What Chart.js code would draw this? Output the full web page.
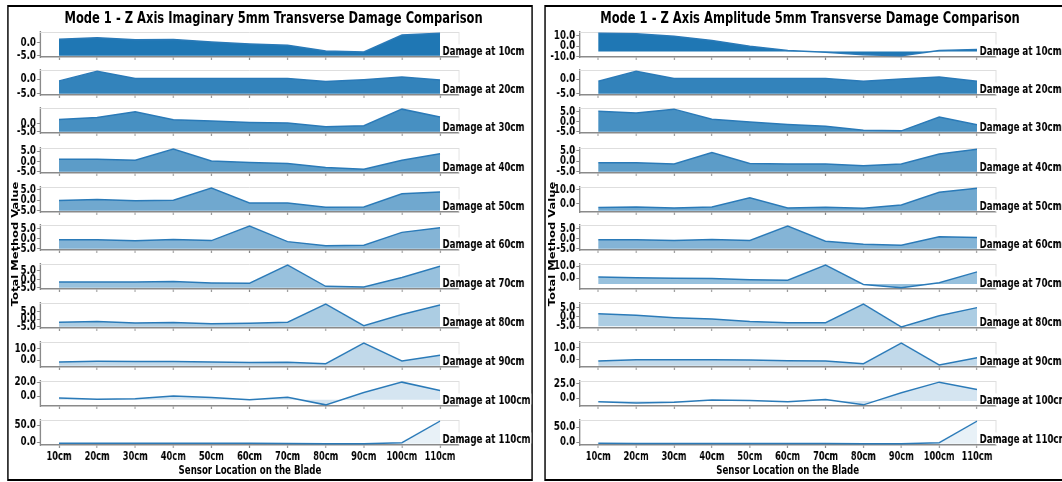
<!DOCTYPE html>
<html><head><meta charset="utf-8">
<script src="https://cdn.jsdelivr.net/npm/chart.js@4.4.1/dist/chart.umd.min.js"></script>
<style>
html,body{margin:0;padding:0;background:#fff;overflow:hidden;width:1062px;height:482px}
#stage{position:absolute;left:0;top:0;width:1475px;height:482px;transform:scaleX(0.72);transform-origin:0 0}
.frame{position:absolute;box-sizing:border-box;border-top:2px solid #000;border-bottom:2px solid #000;border-left:2.8px solid #000;border-right:2.8px solid #000}
.txt{position:absolute;font-family:'DejaVu Sans';font-weight:bold;color:#000;white-space:nowrap;text-align:center}
canvas{position:absolute}
</style></head><body><div id="stage"></div>
<script>
// ---------- data ----------
const categories = ['10cm','20cm','30cm','40cm','50cm','60cm','70cm','80cm','90cm','100cm','110cm'];
const damageLabels = ['Damage at 10cm','Damage at 20cm','Damage at 30cm','Damage at 40cm','Damage at 50cm','Damage at 60cm','Damage at 70cm','Damage at 80cm','Damage at 90cm','Damage at 100cm','Damage at 110cm'];

// Imaginary panel
const imag10  = [1.4, 1.9, 1.2, 1.3, 0.3, -0.5, -0.9, -3.1, -3.5, 3.0, 3.7];
const imag20  = [-0.6, 2.7, 0.2, 0.2, 0.2, 0.2, 0.2, -0.8, -0.2, 0.7, -0.3];
const imag30  = [2.4, 3.6, 7.0, 2.2, 1.4, 0.6, 0.2, -2.0, -1.4, 8.5, 3.8];
const imag40  = [1.0, 1.1, 0.6, 5.9, 0.2, -0.5, -1.0, -2.9, -3.7, 0.6, 3.7];
const imag50  = [-0.2, 0.3, -0.3, 0.0, 5.6, -1.3, -1.3, -3.3, -3.2, 3.0, 3.8];
const imag60  = [-0.5, -0.5, -1.0, -0.4, -0.9, 6.3, -1.4, -3.4, -3.2, 3.2, 5.5];
const imag70  = [-1.5, -1.5, -1.5, -1.3, -2.1, -2.3, 8.4, -4.1, -4.5, 1.1, 7.7];
const imag80  = [-2.0, -1.5, -2.4, -2.2, -2.9, -2.7, -2.0, 9.9, -4.2, 3.1, 9.3];
const imag90  = [-1.6, -1.0, -1.3, -1.3, -1.6, -2.2, -1.9, -3.1, 14.6, -0.7, 4.2];
const imag100 = [-2.5, -4.4, -3.4, 0.4, -1.9, -4.8, -1.5, -12.3, 5.4, 20.3, 8.3];
const imag110 = [-3.0, -3.2, -3.3, -3.0, -3.3, -3.5, -3.8, -4.5, -4.5, -1.5, 62.0];
const imagYTicks = [[0,-5],[0,-5],[0,-5],[5,0,-5],[5,0,-5],[5,0,-5],[5,0,-5],[5,0,-5],[10,0],[20,0],[50,0]];

// Amplitude panel
const amp10  = [12.2, 11.7, 9.2, 5.4, 0.0, -4.1, -5.7, -7.9, -9.0, -4.1, -3.1];
const amp20  = [-0.7, 2.7, 0.2, 0.2, 0.2, 0.2, 0.2, -0.7, 0.0, 0.7, -0.7];
const amp30  = [5.4, 4.5, 6.4, 1.3, -0.1, -1.3, -2.2, -4.2, -4.5, 2.5, -1.4];
const amp40  = [-0.7, -0.7, -1.3, 4.2, -1.0, -1.3, -1.3, -2.1, -1.3, 3.5, 5.8];
const amp50  = [-2.6, -2.2, -2.9, -2.2, 4.2, -2.9, -2.4, -3.1, -0.9, 8.1, 11.0];
const amp60  = [-0.5, -0.5, -0.9, -0.4, -0.9, 6.2, -1.2, -2.7, -3.2, 1.0, 0.6];
const amp70  = [0.9, 0.3, 0.0, -0.3, -1.4, -1.7, 11.0, -5.3, -8.2, -3.8, 5.3];
const amp80  = [1.7, 0.9, -0.4, -1.1, -2.5, -3.2, -3.2, 7.0, -5.4, 0.7, 5.1];
const amp90  = [-1.1, 0.0, 0.0, 0.0, -0.3, -0.8, -1.1, -3.3, 13.5, -4.2, 1.7];
const amp100 = [-5.9, -8.3, -7.1, -2.9, -4.1, -5.9, -2.3, -11.5, 9.6, 28.0, 15.0];
const amp110 = [-3.0, -3.5, -3.5, -3.5, -3.5, -3.8, -4.0, -4.8, -4.8, -1.0, 70.0];
const ampYTicks = [[10,0,-10],[0,-5],[5,0,-5],[5,0,-5],[10,0],[5,0,-5],[10,0],[5,0,-5],[10,0],[25,0],[50,0]];

const FILL_BASE = -5;
const fillAlphas = [1, 0.91, 0.82, 0.73, 0.64, 0.55, 0.46, 0.37, 0.28, 0.19, 0.10];

// ---------- layout ----------
const S = 0.72;            // horizontal squeeze of the whole figure
const stage = document.getElementById('stage');
const SPINE = '#8a8a8a';
const LINE = '#2a7ab8';
const FONT = "'DejaVu Sans'";
Chart.defaults.font.family = FONT;
const plotTops = [32, 70, 108, 148, 187, 225, 264, 303, 342, 381, 420];
const PLOT_H = 25, PAD_T = 8;

function addText(txt, left, top, width, size, extra) {
  const d = document.createElement('div');
  d.className = 'txt';
  d.textContent = txt;
  d.style.left = left + 'px'; d.style.top = top + 'px'; d.style.width = width + 'px';
  d.style.fontSize = size + 'px'; d.style.lineHeight = size + 'px';
  if (extra) Object.assign(d.style, extra);
  stage.appendChild(d);
}
function addFrame(l, t, w, h) {
  const d = document.createElement('div');
  d.className = 'frame';
  Object.assign(d.style, {left: l + 'px', top: t + 'px', width: w + 'px', height: h + 'px'});
  stage.appendChild(d);
}

const framePlugin = {
  id: 'subframe',
  beforeDatasetsDraw(chart) {
    const {ctx, chartArea: a} = chart;
    ctx.save();
    ctx.strokeStyle = '#dedede';
    ctx.lineWidth = 1;
    ctx.beginPath(); ctx.moveTo(a.left, a.top + 0.5); ctx.lineTo(a.right, a.top + 0.5); ctx.stroke();
    ctx.lineWidth = 1 / S;
    ctx.beginPath(); ctx.moveTo(a.right, a.top); ctx.lineTo(a.right, a.bottom); ctx.stroke();
    ctx.restore();
  }
};
const labelPlugin = {
  id: 'dmgLabel',
  afterDraw(chart, args, opts) {
    const {ctx, chartArea: a} = chart;
    const x = chart.scales.x.getPixelForTick(categories.length - 1) + 3.5;
    const y = a.bottom - 2.5;
    ctx.save();
    ctx.font = 'bold 12px ' + FONT;
    const w = ctx.measureText(opts.text).width;
    ctx.fillStyle = '#fff';
    ctx.fillRect(x - 1, y - 10, w + 2, 11);
    ctx.fillStyle = '#000';
    ctx.textBaseline = 'alphabetic';
    ctx.textAlign = 'left';
    ctx.fillText(opts.text, x, y);
    ctx.restore();
  }
};

function makeSubplot(p, i, values, yTicks) {
  const bottom = i === values.length - 1;
  const data = values[i];
  const xH = bottom ? 30 : 8;
  const w = Math.round(p.yW + p.plotW + p.padR);
  const h = PAD_T + PLOT_H + xH;
  const c = document.createElement('canvas');
  c.width = w; c.height = h;
  c.style.left = p.left + 'px'; c.style.top = (plotTops[i] - PAD_T) + 'px';
  c.style.width = w + 'px'; c.style.height = h + 'px';
  stage.appendChild(c);
  const lo = Math.min(FILL_BASE, ...data), hi = Math.max(...data), r = hi - lo;
  const ymin = lo - 0.05 * r, ymax = hi + 0.05 * r;
  const tickVals = yTicks[i];
  const xFont = {family: FONT, weight: 'bold', size: 11.5};
  const yFont = {family: FONT, weight: 'bold', size: 12, lineHeight: 1};
  new Chart(c, {
    type: 'line',
    data: {labels: categories, datasets: [{
      data, borderColor: LINE, borderWidth: 1.5,
      backgroundColor: 'rgba(31,119,180,' + fillAlphas[i] + ')',
      fill: {value: FILL_BASE}, pointRadius: 0, tension: 0
    }]},
    options: {
      responsive: false, animation: false, devicePixelRatio: 1,
      layout: {padding: {top: PAD_T, left: 0, right: w - p.yW - p.plotW, bottom: 0}},
      plugins: {legend: {display: false}, tooltip: {enabled: false}, dmgLabel: {text: damageLabels[i]}},
      scales: {
        x: {
          type: 'category', offset: true,
          grid: {offset: false, drawOnChartArea: false, drawTicks: true, tickLength: 3, tickColor: SPINE, tickWidth: 1 / S},
          border: {display: true, color: SPINE, width: 1.5},
          ticks: {display: bottom, font: xFont, color: '#000', padding: 2, maxRotation: 0, autoSkip: false},
          afterFit: s => { s.height = xH; }
        },
        y: {
          min: ymin, max: ymax,
          afterBuildTicks: s => { s.ticks = tickVals.filter(v => v >= ymin && v <= ymax).map(v => ({value: v})); },
          ticks: {callback: v => Number(v).toFixed(1), font: yFont, color: '#000', padding: 1.5, autoSkip: false},
          grid: {drawOnChartArea: false, drawTicks: true, tickLength: 4.2, tickColor: SPINE, tickWidth: 1},
          border: {display: true, color: SPINE, width: 1.5 / S},
          afterFit: s => { s.width = p.yW; }
        }
      }
    },
    plugins: [framePlugin, labelPlugin]
  });
}

function makePanel(p, values, yTicks, title) {
  addFrame(p.frameL, 5, p.frameW, 476);
  addText(title, p.titleC - 500, 10, 1000, 16);
  addText('Sensor Location on the Blade', p.xTitleC - 300, 463.5, 600, 12);
  addText('Total Method Value', p.yTitleC - 100, 244 - 7, 200, 11.5, {height: '14px', lineHeight: '14px', transform: 'rotate(-90deg)'});
  values.forEach((v, i) => makeSubplot(p, i, values, yTicks));
}

const imagValues = [imag10, imag20, imag30, imag40, imag50, imag60, imag70, imag80, imag90, imag100, imag110];
const ampValues = [amp10, amp20, amp30, amp40, amp50, amp60, amp70, amp80, amp90, amp100, amp110];

makePanel({left: 16, yW: 39.56, plotW: 581.94, padR: 104.5,
           frameL: 10.1, frameW: 730, titleC: 379.9, xTitleC: 347.2, yTitleC: 20.8},
          imagValues, imagYTicks, 'Mode 1 - Z Axis Imaginary 5mm Transverse Damage Comparison');
makePanel({left: 764, yW: 40.6, plotW: 578.7, padR: 91.7,
           frameL: 756.3, frameW: 760, titleC: 1125, xTitleC: 1094, yTitleC: 766.7},
          ampValues, ampYTicks, 'Mode 1 - Z Axis Amplitude 5mm Transverse Damage Comparison');
</script></body></html>
